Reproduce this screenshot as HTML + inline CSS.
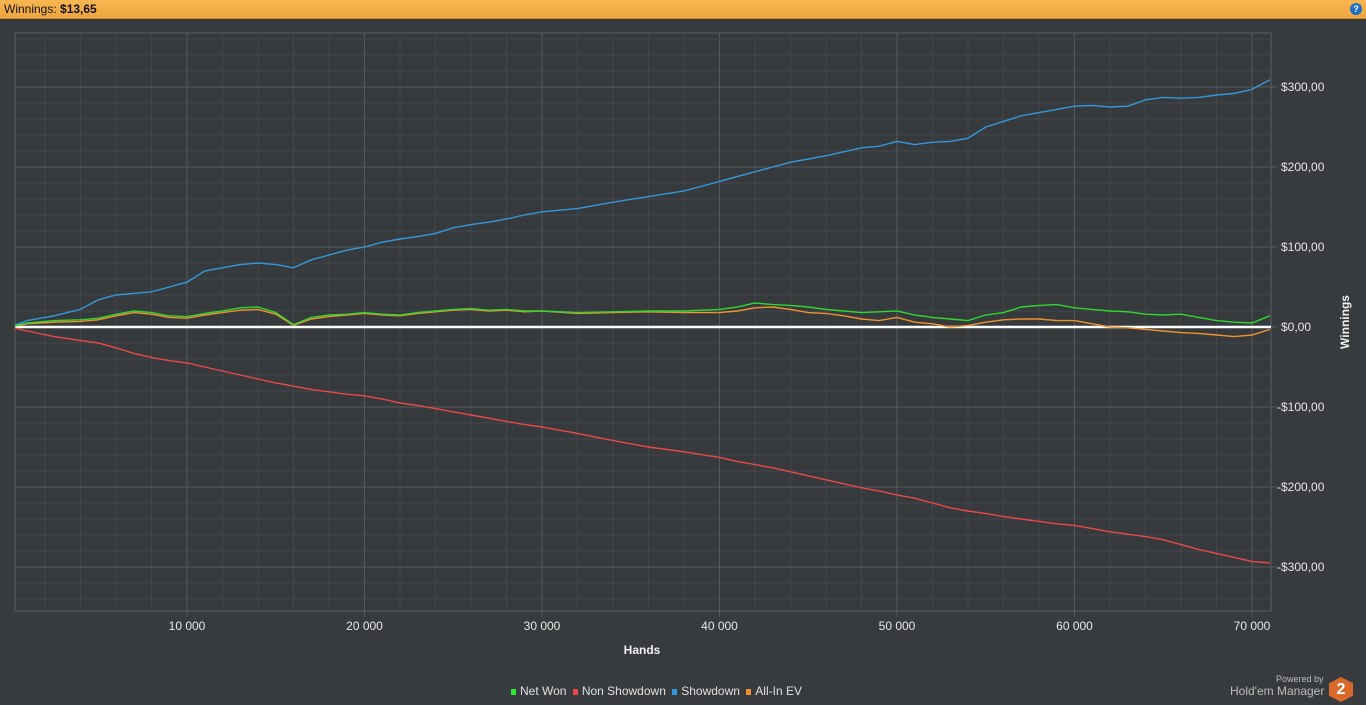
<!DOCTYPE html>
<html><head><meta charset="utf-8"><style>
body{margin:0;width:1366px;height:705px;background:#383b3e;overflow:hidden;font-family:"Liberation Sans",sans-serif}
#top{position:absolute;left:0;top:0;width:1366px;height:18px;background:linear-gradient(#f8b651,#eea63f);border-bottom:1px solid #c98a2e;font-size:12px;line-height:18px;color:#111}
</style></head><body>
<div id="top"><span style="margin-left:4px">Winnings: <b>$13,65</b></span>
<div style="position:absolute;right:4px;top:3px;width:12px;height:12px;border-radius:50%;background:#1f6fc6;color:#fff;font-size:9px;line-height:12px;text-align:center;font-weight:bold">?</div></div>
<svg id="c" width="1366" height="705" style="position:absolute;left:0;top:0"><defs><clipPath id="pc"><rect x="15" y="33" width="1256" height="578"/></clipPath></defs></svg>
<script>
const hands=[0,1000,2500,4000,5000,6000,7000,8000,9000,10000,11000,12000,13000,14000,15000,16000,17000,18000,19000,20000,21000,22000,23000,24000,25000,26000,27000,28000,29000,30000,32000,34000,36000,38000,40000,41000,42000,43000,44000,45000,46000,47000,48000,49000,50000,51000,52000,53000,54000,55000,56000,57000,58000,59000,60000,61000,62000,63000,64000,65000,66000,67000,68000,69000,70000,71000];
const showdown=[0,8,14,22,34,40,42,44,50,56,70,74,78,80,78,74,84,90,96,100,106,110,113,117,124,128,131,135,140,144,148,156,163,170,182,188,194,200,206,210,214,219,224,226,232,228,231,232,236,250,257,264,268,272,276,277,275,276,284,287,286,287,290,292,297,309];
const nonShowdown=[0,-5,-12,-17,-20,-26,-33,-38,-42,-45,-50,-55,-60,-65,-70,-74,-78,-81,-84,-86,-90,-95,-98,-102,-106,-110,-114,-118,-122,-125,-133,-142,-150,-156,-163,-168,-172,-176,-181,-186,-191,-196,-201,-205,-210,-214,-220,-226,-230,-233,-237,-240,-243,-246,-248,-252,-256,-259,-262,-266,-272,-278,-283,-288,-293,-295];
const netWon=[0,5,8,9,11,16,20,18,14,13,17,20,24,25,18,3,12,15,16,18,16,15,18,20,22,23,21,22,20,20,18,19,20,20,22,25,30,28,27,25,22,20,18,19,20,15,12,10,8,15,18,25,27,28,24,22,20,19,16,15,16,12,8,6,5,14];
const allInEV=[0,4,6,7,9,14,18,16,12,11,15,18,21,22,16,2,10,13,15,17,15,14,17,19,21,22,20,21,19,20,17,18,19,18,18,20,24,25,22,18,17,14,10,8,12,6,4,0,2,6,9,10,10,8,8,4,0,-1,-3,-5,-7,-8,-10,-12,-10,-3];
const yTicks=[300,200,100,0,-100,-200,-300];
const yLabels=["$300,00","$200,00","$100,00","$0,00","-$100,00","-$200,00","-$300,00"];
const xTicks=[10000,20000,30000,40000,50000,60000,70000];
const xLabels=["10 000","20 000","30 000","40 000","50 000","60 000","70 000"];

const L=15,R=1271,T=33,B=611;
const X=h=>9.5+h*0.01775;
const Y=v=>327-v*0.8;
const svg=document.getElementById('c');
const NS='http://www.w3.org/2000/svg';
function mk(t,a){const e=document.createElementNS(NS,t);for(const k in a)e.setAttribute(k,a[k]);svg.appendChild(e);return e;}
let r=mk('rect',{x:L,y:T,width:R-L,height:B-T,fill:'#363a3d',stroke:'#5c5f62'});


for(let h=2000;h<=71000;h+=2000){const x=X(h);const g=mk('line',{x1:x,x2:x,y1:T,y2:B+(h%10000?0:6),stroke:h%10000?'#43474a':'#55595c'});

}
for(let v=-340;v<=360;v+=20){const y=Y(v);if(y<T||y>B)continue;const g=mk('line',{x1:L,x2:R+(v%100?0:6),y1:y,y2:y,stroke:v%100?'#43474a':'#55595c'});

}
yTicks.forEach((v,i)=>{const t=mk('text',{x:v<0?1277:1281,y:Y(v)+4,fill:'#e8e8e8','font-size':12});t.textContent=yLabels[i];

});
xTicks.forEach((h,i)=>{const t=mk('text',{x:X(h),y:630,fill:'#e8e8e8','font-size':12,'text-anchor':'middle'});t.textContent=xLabels[i];

});
let t=mk('text',{x:642,y:654,fill:'#f0f0f0','font-size':12,'font-weight':'bold','text-anchor':'middle'});t.textContent='Hands';


t=mk('text',{x:0,y:0,fill:'#f0f0f0','font-size':12,'font-weight':'bold','text-anchor':'middle',transform:'translate(1349,322) rotate(-90)'});t.textContent='Winnings';


let z=mk('line',{x1:L,x2:R,y1:Y(0),y2:Y(0),stroke:'#ffffff','stroke-width':2.5});


function series(vals,col,name){const p=mk('polyline',{points:vals.map((v,i)=>X(hands[i]).toFixed(1)+','+Y(v).toFixed(1)).join(' '),fill:'none',stroke:col,'stroke-width':1.4,'clip-path':'url(#pc)'});

}
series(nonShowdown,'#e8484a','non-showdown-line');
series(showdown,'#3398dc','showdown-line');
series(allInEV,'#f0912f','all-in-ev-line');
series(netWon,'#2fd62f','net-won-line');
</script>
<div style="position:absolute;left:511px;top:684px;font-size:12px;color:#e0e0e0;white-space:nowrap">
<span><i style="display:inline-block;width:5px;height:6px;background:#2fe82f;margin-right:4px"></i>Net Won</span>
<span style="margin-left:3px"><i style="display:inline-block;width:5px;height:6px;background:#e8484a;margin-right:4px"></i>Non Showdown</span>
<span style="margin-left:3px"><i style="display:inline-block;width:5px;height:6px;background:#3398dc;margin-right:4px"></i>Showdown</span>
<span style="margin-left:3px"><i style="display:inline-block;width:5px;height:6px;background:#f0912f;margin-right:4px"></i>All-In EV</span>
</div>
<div style="position:absolute;left:1228px;top:674px;color:#bbb">
<div style="font-size:9px;position:absolute;left:48px;top:0;white-space:nowrap">Powered by</div>
<div style="font-size:12px;position:absolute;left:2px;top:10px;white-space:nowrap">Hold'em Manager</div>
<div style="position:absolute;left:101px;top:3px;width:24px;height:25px;background:#d9692a;clip-path:polygon(50% 0,100% 25%,100% 75%,50% 100%,0 75%,0 25%);color:#fff;font-weight:bold;font-size:16px;text-align:center;line-height:25px">2</div>
</div>
</body></html>
